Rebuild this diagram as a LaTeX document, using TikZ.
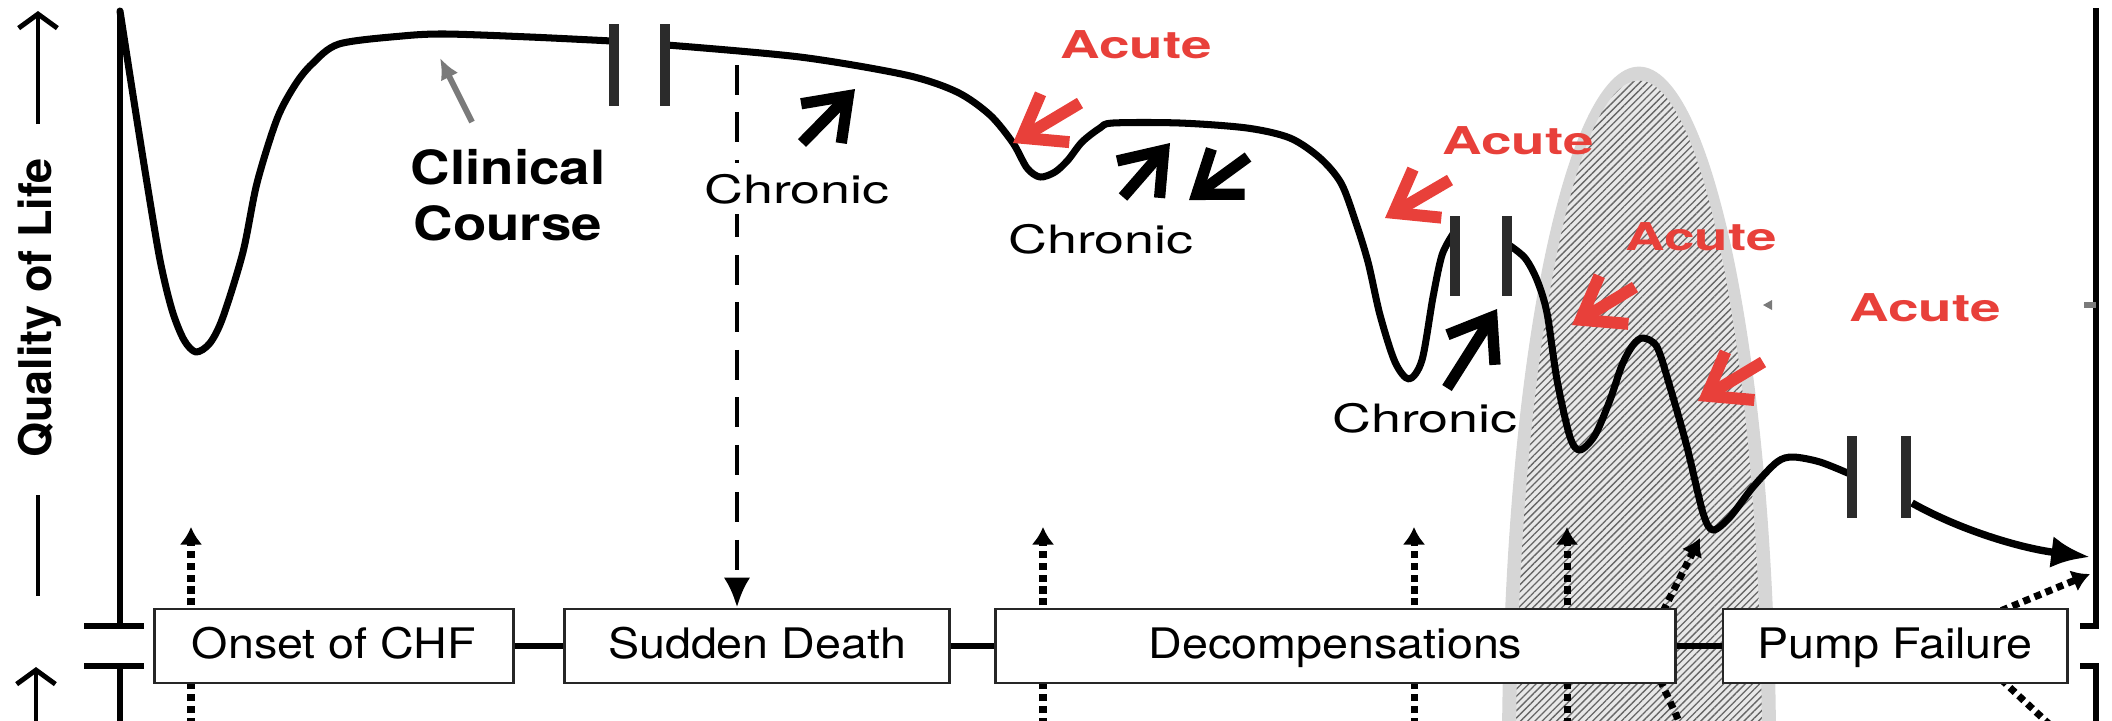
\documentclass[tikz,border=0pt]{standalone}
\usepackage{fontspec}
\usepackage{graphicx}
\setmainfont{TeX Gyre Heros}
\usetikzlibrary{arrows.meta,patterns.meta}
\definecolor{acred}{HTML}{E8403A}
\definecolor{bargray}{HTML}{2B2B2B}
\definecolor{band}{HTML}{D6D6D6}
\definecolor{arrgray}{HTML}{7A7A7A}
\newcommand{\xs}[2]{\scalebox{#1}[1]{#2}}
\begin{document}
\begin{tikzpicture}[x=0.01cm,y=-0.01cm,
  curve/.style={line width=2pt,line join=round,line cap=round},
  brk/.style={draw=bargray,line width=3.1pt},
  axis/.style={line width=1.5pt},
  stepbox/.style={draw=black!85,line width=0.8pt,fill=white,inner sep=0pt,minimum height=0.74cm,font=\fontsize{11.95}{14}\selectfont,text height=8.5pt,text depth=1.4pt},
  link/.style={line width=1.5pt},
  chron/.style={font=\fontsize{11.1}{13}\selectfont,inner sep=0pt,anchor=base},
  acute/.style={text=acred,font=\bfseries\fontsize{10.9}{13}\selectfont,inner sep=0pt,anchor=base},
  clin/.style={font=\bfseries\fontsize{13.4}{16}\selectfont,inner sep=0pt,anchor=base},
  barbblack/.style={line width=3.2pt,-{Straight Barb[length=11pt,width=16pt]}},
  barbred/.style={draw=acred,line width=3.4pt,-{Straight Barb[length=11pt,width=16pt]}},
  dotarrow/.style={line width=2pt,dash pattern=on 2pt off 1.4pt,-{Latex[length=5pt,width=6.5pt]}},
  dasharrow/.style={line width=1.4pt,dash pattern=on 8.5pt off 5pt,-{Latex[length=8.5pt,width=7.5pt]}},
  labarrow/.style={line width=1.4pt,-{Straight Barb[length=4pt,width=11pt]}},
]
\useasboundingbox (0,0) rectangle (2112,720);

% hatched ellipse
\begin{scope}
\clip (0,0) rectangle (2112,720);
\fill[band] (1639,760) ellipse [x radius=1.37cm, y radius=6.93cm];
\fill[gray!18] (1639,760) ellipse [x radius=1.23cm, y radius=6.79cm];
\fill[pattern={Lines[angle=45,distance=1.45pt,line width=0.38pt]}, pattern color=black!60] (1639,760) ellipse [x radius=1.23cm, y radius=6.79cm];
\end{scope}

% axes
\draw[axis] (120,11) -- (120,626);
\draw[axis] (84,626) -- (144,626);
\draw[axis] (84,666) -- (144,666);
\draw[axis] (120,666) -- (120,725);
\draw[axis] (2096,8) -- (2096,626) -- (2080,626);
\draw[axis] (2080,666) -- (2096,666) -- (2096,725);
\draw[arrgray,line width=1.5pt] (2084,305) -- (2096,305);
\fill[arrgray] (1763,305) -- (1772,300) -- (1772,310) -- cycle;

% axis label
\node[rotate=90,font=\bfseries\fontsize{12.8}{15}\selectfont,inner sep=0pt] (qol) at (40,308) {Quality of Life};
\coordinate (qa1) at (38,124); \coordinate (qa2) at (38,11);
\coordinate (qb1) at (38,495); \coordinate (qb2) at (38,596);
\coordinate (qc1) at (36,725); \coordinate (qc2) at (36,667);
\draw[labarrow] (qa1) -- (qa2);
\draw[line width=1.4pt] (qb1) -- (qb2);
\draw[labarrow] (qc1) -- (qc2);

% dotted arrows
\coordinate (d1s) at (191,725); \coordinate (d1e) at (191,527);
\coordinate (d2s) at (1043,725); \coordinate (d2e) at (1043,527);
\coordinate (d3s) at (1414,725); \coordinate (d3e) at (1414,527);
\coordinate (d4s) at (1567,725); \coordinate (d4e) at (1567,527);
\coordinate (d5s) at (1683,730); \coordinate (d5m) at (1645,647); \coordinate (d5e) at (1700,538);
\coordinate (d6s) at (2050,725); \coordinate (d6m) at (1975,655); \coordinate (d6n) at (1930,640); \coordinate (d6e) at (2090,574);
\draw[dotarrow] (d1s) -- (d1e);
\draw[dotarrow] (d2s) -- (d2e);
\draw[dotarrow] (d3s) -- (d3e);
\draw[dotarrow] (d4s) -- (d4e);
\draw[dotarrow] (d5s) -- (d5m) -- (d5e);
\draw[dotarrow] (d6s) -- (d6m) -- (d6n) -- (d6e);

% dashed sudden death arrow
\coordinate (sd) at (737,65);

% boxes
\node[stepbox,minimum width=3.58cm] (b1) at (334,646) {\xs{1.11}{Onset of CHF}};
\node[stepbox,minimum width=3.84cm] (b2) at (757,646) {\xs{1.11}{Sudden Death}};
\node[stepbox,minimum width=6.79cm] (b3) at (1335.5,646) {\xs{1.11}{Decompensations}};
\node[stepbox,minimum width=3.44cm] (b4) at (1895,646) {\xs{1.11}{Pump Failure}};
\draw[link] (b1.east) -- (b2.west);
\draw[link] (b2.east) -- (b3.west);
\draw[link] (b3.east) -- (b4.west);
\draw[dasharrow] (sd) -- (sd |- b2.north);

% clinical course curve
\draw[curve] plot[smooth,tension=0.5] coordinates {(120,11) (133,95) (147,183) (160,260) (172,310) (184,340) (196,352) (210,343) (223,317) (243,252) (257,183) (277,119) (295,85) (312,64) (339,44) (402,36) (446,34) (530,37) (612,41)};
\draw[curve] plot[smooth,tension=0.5] coordinates {(667,45) (800,57) (906,75) (957,92) (990,115) (1013,143) (1027,168) (1040,177) (1055,172) (1068,160) (1082,142) (1100,128) (1113,123) (1180,123) (1247,128) (1290,138) (1320,158) (1341,183) (1355,220) (1368,262) (1380,315) (1395,362) (1409,379) (1422,360) (1433,297) (1442,255) (1453,234)};
\draw[curve] plot[smooth,tension=0.5] coordinates {(1509,245) (1525,258) (1537,280) (1547,313) (1557,380) (1570,437) (1580,450) (1595,435) (1610,400) (1622,365) (1633,345) (1643,338) (1657,347) (1670,387) (1687,447) (1703,513) (1713,530) (1730,517) (1753,487) (1777,462) (1793,457) (1820,462) (1850,474)};
\coordinate (fs) at (1912,503); \coordinate (fe) at (2090,557);
\draw[line width=2.1pt,-{Latex[length=11pt,width=9pt]}] (fs) .. controls (1960,530) and (2020,548) .. (fe);

% break bars
\draw[brk] (614,24) -- (614,106);
\draw[brk] (665,24) -- (665,106);
\draw[brk] (1455,216) -- (1455,296);
\draw[brk] (1507,216) -- (1507,296);
\draw[brk] (1852,436) -- (1852,518);
\draw[brk] (1906,436) -- (1906,518);

% clinical course label
\node[clin] (cl1) at (508,184) {\xs{1.16}{Clinical}};
\node[clin] (cl2) at (508,240) {\xs{1.16}{Course}};
\coordinate (ga1) at (472,122); \coordinate (ga2) at (440,58);
\draw[arrgray,line width=1.7pt,-{Latex[length=6pt,width=5.5pt]}] (ga1) -- (ga2);

% chronic labels and arrows
\node[chron,fill=white,inner sep=3pt] (ch1) at (797,203) {\xs{1.38}{Chronic}};
\node[chron] (ch2) at (1101,253) {\xs{1.38}{Chronic}};
\node[chron] (ch3) at (1425,432) {\xs{1.38}{Chronic}};
\coordinate (k1s) at (802,143); \coordinate (k1e) at (855,89);
\coordinate (k2s) at (1123,197); \coordinate (k2e) at (1170,143);
\coordinate (k3s) at (1248,157); \coordinate (k3e) at (1189,200);
\coordinate (k4s) at (1447,388); \coordinate (k4e) at (1497,309);
\draw[barbblack] (k1s) -- (k1e);
\draw[barbblack] (k2s) -- (k2e);
\draw[barbblack] (k3s) -- (k3e);
\draw[barbblack] (k4s) -- (k4e);

% acute labels and arrows
\node[acute] (ac1) at (1136,58) {\xs{1.43}{Acute}};
\node[acute] (ac2) at (1518,154) {\xs{1.43}{Acute}};
\node[acute] (ac3) at (1701,250) {\xs{1.43}{Acute}};
\node[acute] (ac4) at (1925,321) {\xs{1.43}{Acute}};
\coordinate (r1s) at (1080,103); \coordinate (r1e) at (1013,143);
\coordinate (r2s) at (1450,180); \coordinate (r2e) at (1385,218);
\coordinate (r3s) at (1635,287); \coordinate (r3e) at (1572,325);
\coordinate (r4s) at (1763,362); \coordinate (r4e) at (1698,401);
\draw[barbred] (r1s) -- (r1e);
\draw[barbred] (r2s) -- (r2e);
\draw[barbred] (r3s) -- (r3e);
\draw[barbred] (r4s) -- (r4e);
\end{tikzpicture}
\end{document}
